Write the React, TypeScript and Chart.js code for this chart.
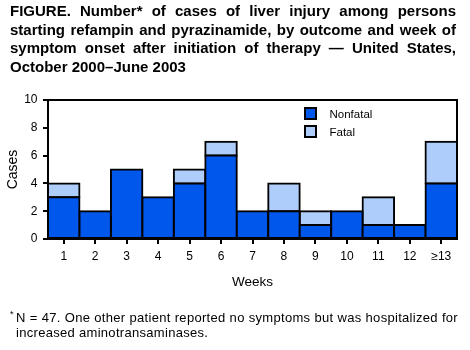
import { useEffect, useRef } from 'react';
import { Chart, registerables } from 'chart.js';

Chart.register(...registerables);

const weeks = ['1', '2', '3', '4', '5', '6', '7', '8', '9', '10', '11', '12', '≥13'];
const nonfatal = [3, 2, 5, 3, 4, 6, 2, 2, 1, 2, 1, 1, 4];
const fatal = [1, 0, 0, 0, 1, 1, 0, 2, 1, 0, 2, 0, 3];
const yTicks = [0, 2, 4, 6, 8, 10];
const seriesNames = ['Nonfatal', 'Fatal'];
const titleLines = [
  'FIGURE. Number* of cases of liver injury among persons',
  'starting refampin and pyrazinamide, by outcome and week of',
  'symptom onset after initiation of therapy — United States,',
  'October 2000–June 2003',
];
const footLines = [
  'N = 47. One other patient reported no symptoms but was hospitalized for',
  'increased aminotransaminases.',
];

const FONT = '"Liberation Sans", Arial, Helvetica, sans-serif';
const NONFATAL_COLOR = '#0057EB';
const FATAL_COLOR = '#AFCDFA';

const framePlugin = {
  id: 'frame',
  afterDatasetsDraw(chart: any) {
    const { ctx, chartArea } = chart;
    const { left, top, right, bottom } = chartArea;
    ctx.save();
    ctx.strokeStyle = '#000';
    ctx.lineWidth = 2;
    ctx.lineCap = 'square';
    ctx.beginPath();
    ctx.moveTo(left, top);
    ctx.lineTo(right, top);
    ctx.lineTo(right, bottom);
    ctx.stroke();
    ctx.restore();
  },
};

const insideLegend = {
  id: 'insideLegend',
  afterDraw(chart: any) {
    const { ctx, chartArea } = chart;
    const x0 = chartArea.left + 257;
    let y = chartArea.top + 8;
    ctx.save();
    chart.data.datasets.forEach((ds: any) => {
      ctx.fillStyle = ds.backgroundColor;
      ctx.fillRect(x0, y, 11, 11);
      ctx.strokeStyle = '#000';
      ctx.lineWidth = 2;
      ctx.strokeRect(x0, y, 11, 11);
      ctx.fillStyle = '#000';
      ctx.font = `11.5px ${FONT}`;
      ctx.textBaseline = 'middle';
      ctx.textAlign = 'left';
      ctx.fillText(ds.label, x0 + 24.5, y + 6.5);
      y += 18;
    });
    ctx.restore();
  },
};

export default function App() {
  const ref = useRef<HTMLCanvasElement | null>(null);

  useEffect(() => {
    if (!ref.current) return;
    const common = {
      borderColor: '#000',
      borderWidth: 2,
      borderSkipped: false,
      inflateAmount: 1,
      barPercentage: 1,
      categoryPercentage: 1,
    };
    const gridOpts = {
      drawOnChartArea: false,
      drawTicks: true,
      tickLength: 5,
      color: '#000',
      lineWidth: 2,
    };
    const chart = new Chart(ref.current, {
      type: 'bar',
      data: {
        labels: weeks,
        datasets: [
          { ...common, label: seriesNames[0], data: nonfatal, backgroundColor: NONFATAL_COLOR },
          {
            ...common,
            label: seriesNames[1],
            data: fatal.map((v) => (v === 0 ? null : v)),
            backgroundColor: FATAL_COLOR,
          },
        ],
      },
      options: {
        animation: false,
        responsive: false,
        maintainAspectRatio: false,
        layout: { padding: { top: 100, right: 13, bottom: 60, left: 0 } },
        plugins: {
          legend: { display: false },
          tooltip: { enabled: false },
          title: { display: false },
        },
        scales: {
          x: {
            stacked: true,
            offset: true,
            grid: { ...gridOpts, offset: false },
            border: { display: true, color: '#000', width: 2, z: 1 },
            ticks: {
              color: '#000',
              font: { family: FONT, size: 12 },
              padding: 5,
              maxRotation: 0,
              autoSkip: false,
            },
            title: {
              display: true,
              text: 'Weeks',
              color: '#000',
              font: { family: FONT, size: 13.5 },
              padding: 0,
            },
            afterFit(s: any) {
              s.height = 51;
            },
          },
          y: {
            stacked: true,
            min: 0,
            max: 10,
            grid: gridOpts,
            border: { display: true, color: '#000', width: 2, z: 1 },
            ticks: {
              color: '#000',
              font: { family: FONT, size: 12 },
              padding: 5.5,
            },
            afterBuildTicks(s: any) {
              s.ticks = yTicks.map((v) => ({ value: v }));
            },
            title: {
              display: true,
              text: 'Cases',
              color: '#000',
              font: { family: FONT, size: 14 },
              padding: { top: 5, bottom: 0 },
            },
            afterFit(s: any) {
              s.width = 48;
            },
          },
        },
      } as any,
      plugins: [framePlugin, insideLegend],
    });
    return () => chart.destroy();
  }, []);

  return (
    <div
      style={{
        position: 'absolute',
        left: 0,
        top: 0,
        width: 470,
        height: 350,
        background: '#fff',
        fontFamily: FONT,
        color: '#000',
      }}
    >
      <canvas ref={ref} width={470} height={350} style={{ position: 'absolute', left: 0, top: 0 }} />
      <div
        style={{
          position: 'absolute',
          left: 10,
          top: 2,
          width: 446,
          fontWeight: 'bold',
          fontSize: 15,
          lineHeight: '18.7px',
        }}
      >
        {titleLines.map((t, i) => (
          <div
            key={i}
            style={{
              textAlign: 'justify',
              textAlignLast: i < titleLines.length - 1 ? 'justify' : 'left',
              whiteSpace: 'nowrap',
            }}
          >
            {t}
          </div>
        ))}
      </div>
      <div
        style={{
          position: 'absolute',
          left: 16,
          top: 310,
          width: 442,
          fontSize: 13,
          letterSpacing: '0.3px',
          lineHeight: '15px',
        }}
      >
        <span style={{ position: 'absolute', left: -6, top: -3, fontSize: 9 }}>*</span>
        {footLines.map((t, i) => (
          <div
            key={i}
            style={{
              textAlign: 'justify',
              textAlignLast: i < footLines.length - 1 ? 'justify' : 'left',
              whiteSpace: 'nowrap',
            }}
          >
            {t}
          </div>
        ))}
      </div>
    </div>
  );
}
